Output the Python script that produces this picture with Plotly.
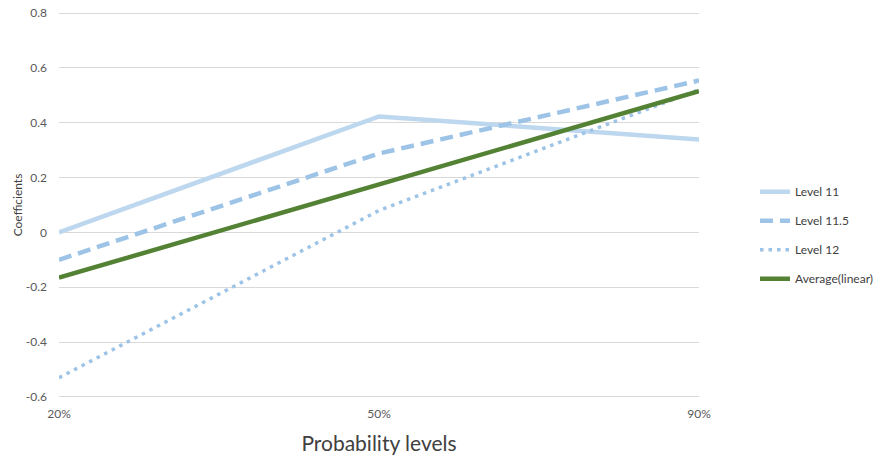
import plotly.graph_objects as go

categories = ["20%", "50%", "90%"]
level_11 = [0.0, 0.423, 0.339]
level_11_5 = [-0.10, 0.288, 0.554]
level_12 = [-0.53, 0.08, 0.52]
average_linear = [-0.165, 0.175, 0.515]

y_ticks = [-0.6, -0.4, -0.2, 0, 0.2, 0.4, 0.6, 0.8]
y_tick_labels = ["-0.6", "-0.4", "-0.2", "0", "0.2", "0.4", "0.6", "0.8"]

FONT = "Lato, Open Sans, sans-serif"

fig = go.Figure()
fig.add_trace(go.Scatter(x=categories, y=level_11, mode="lines", name="Level 11",
                         legendgroup="a",
                         line=dict(color="#BDD7EE", width=4.5)))
fig.add_trace(go.Scatter(x=categories, y=level_11_5, mode="lines", name="Level 11.5",
                         legendgroup="b",
                         line=dict(color="#9DC3E6", width=4.5, dash="13px,7px")))
fig.add_trace(go.Scatter(x=categories, y=level_12, mode="lines", name="Level 12",
                         legendgroup="c",
                         line=dict(color="#9DC3E6", width=3.5, dash="3.5px,5px")))
fig.add_trace(go.Scatter(x=categories, y=average_linear, mode="lines", name="Average(linear)",
                         legendgroup="d",
                         line=dict(color="#548235", width=4.5)))

fig.update_layout(
    width=894, height=456,
    margin=dict(l=59, r=195, t=11, b=57),
    paper_bgcolor="white", plot_bgcolor="white",
    font=dict(family=FONT, size=12, color="#595959"),
    showlegend=True,
    legend=dict(x=1.0875, y=0.5715, xanchor="left", yanchor="top",
                traceorder="grouped", tracegroupgap=10,
                font=dict(size=12, color="#404040"),
                bgcolor="rgba(0,0,0,0)"),
    xaxis=dict(type="category", range=[0, 2], showgrid=False, zeroline=False,
               showline=False, ticks="", automargin=False, ticklabelstandoff=6,
               tickfont=dict(size=12, color="#595959"),
               title=dict(text="Probability levels", font=dict(size=21, color="#404040"),
                          standoff=16)),
    yaxis=dict(range=[-0.6075, 0.8075], tickvals=y_ticks, ticktext=y_tick_labels,
               showgrid=True, gridcolor="#D9D9D9", gridwidth=1, zeroline=False,
               showline=False, ticks="", automargin=False, ticklabelstandoff=11,
               ticklabeloverflow="allow",
               tickfont=dict(size=12, color="#595959"),
               title=dict(text="Coefficients", font=dict(size=12, color="#404040"),
                          standoff=0)),
)

fig.write_html("out.html", config={"displayModeBar": False},
               post_script="document.body.style.margin='0';")
